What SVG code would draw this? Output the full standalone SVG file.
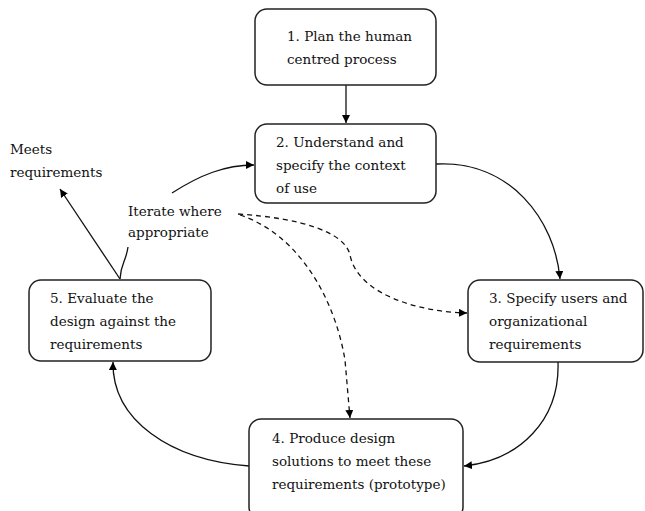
<svg xmlns="http://www.w3.org/2000/svg" width="645" height="511" viewBox="0 0 645 511">
<defs>
<marker id="ah" viewBox="0 0 10 10" refX="10" refY="5" markerWidth="8" markerHeight="8" markerUnits="userSpaceOnUse" orient="auto">
<path d="M0,0 L10,5 L0,10 z" fill="#000"/>
</marker>
<style>
.box{fill:#fff;stroke:#222;stroke-width:1.5}
.c{fill:none;stroke:#111;stroke-width:1.3}
.d{fill:none;stroke:#111;stroke-width:1.3;stroke-dasharray:5,4}
</style>
</defs>
<rect width="645" height="511" fill="#fff"/>
<g id="connectors">
<path class="c" d="M346,85 L346,123" stroke-width="2" marker-end="url(#ah)"/>
<path class="c" d="M436,164 C510,160 555,220 560,279" marker-end="url(#ah)"/>
<path class="c" d="M558,362 C560,420 520,460 464,466" marker-end="url(#ah)"/>
<path class="c" d="M249,466 C170,460 112,420 113,362" marker-end="url(#ah)"/>
<path class="c" d="M172,193 C200,175 225,165 254,165" marker-end="url(#ah)"/>
<path class="c" d="M120,279 L60,189" marker-end="url(#ah)"/>
<path class="c" d="M120,279 C121,262 126,262 128,247"/>
<path class="d" d="M238,214 C300,218 345,232 350,255 C358,295 420,312 467,313" marker-end="url(#ah)"/>
<path class="d" d="M240,215 C300,235 335,300 345,360 L350,418" marker-end="url(#ah)"/>
</g>
<g font-family="'DejaVu Serif', 'Liberation Serif', serif" font-size="13.5" fill="#111">
<g id="n1">
<rect class="box" x="255" y="9" width="181" height="76" rx="12"/>
<text x="287" y="41">1. Plan the human</text>
<text x="287" y="64">centred process</text>
</g>
<g id="n2">
<rect class="box" x="255" y="124" width="181" height="79" rx="12"/>
<text x="276" y="147">2. Understand and</text>
<text x="276" y="170">specify the context</text>
<text x="276" y="193">of use</text>
</g>
<g id="n3">
<rect class="box" x="468" y="280" width="175" height="82" rx="12"/>
<text x="489" y="303">3. Specify users and</text>
<text x="489" y="326">organizational</text>
<text x="489" y="349">requirements</text>
</g>
<g id="n4">
<rect class="box" x="249" y="419" width="214" height="100" rx="12"/>
<text x="272" y="443">4. Produce design</text>
<text x="272" y="466">solutions to meet these</text>
<text x="272" y="489">requirements (prototype)</text>
</g>
<g id="n5">
<rect class="box" x="29" y="280" width="182" height="81" rx="12"/>
<text x="50" y="303">5. Evaluate the</text>
<text x="50" y="326">design against the</text>
<text x="50" y="349">requirements</text>
</g>
<g id="labels">
<text x="10" y="154">Meets</text>
<text x="10" y="177">requirements</text>
<text x="128" y="216">Iterate where</text>
<text x="128" y="237">appropriate</text>
</g>
</g>
</svg>
